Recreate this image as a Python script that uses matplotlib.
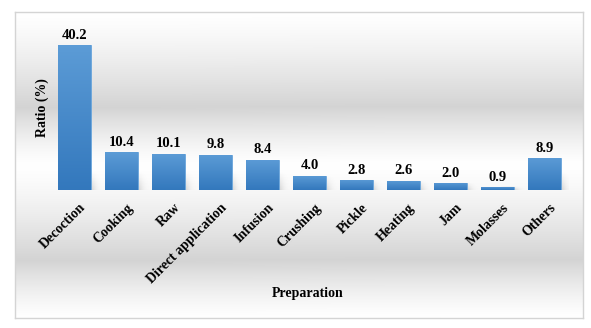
import matplotlib
matplotlib.use("Agg")

import matplotlib.pyplot as plt
import matplotlib.transforms as mtransforms
import numpy as np

categories = ["Decoction", "Cooking", "Raw", "Direct application", "Infusion",
              "Crushing", "Pickle", "Heating", "Jam", "Molasses", "Others"]
ratios = [40.2, 10.4, 10.1, 9.8, 8.4, 4.0, 2.8, 2.6, 2.0, 0.9, 8.9]

plt.rcParams["font.family"] = ["Liberation Serif", "DejaVu Serif"]

W, H = 591, 328
fig = plt.figure(figsize=(W / 100, H / 100), dpi=100)


def px_box(x0, y0, x1, y1):
    return [x0 / W, (H - y1) / H, (x1 - x0) / W, (y1 - y0) / H]


# framed background with vertical grey gradient
bg = fig.add_axes(px_box(15, 12, 583, 318))
t = np.linspace(0, 1, 300)
peak = 0.62
shade = np.where(t < peak, t / peak, (1 - t) / (1 - peak))
grey = 1.0 - 0.17 * shade ** 1.3
img = np.dstack([grey, grey, grey])[:, None, :].repeat(2, axis=1).reshape(300, 2, 3)
bg.imshow(img, aspect="auto", extent=[0, 1, 0, 1], origin="upper")
bg.set_xticks([])
bg.set_yticks([])
for s in bg.spines.values():
    s.set_color("#d4d4d4")
    s.set_linewidth(1.0)

ax = fig.add_axes(px_box(51, 27.7, 568, 190))
ax.patch.set_alpha(0)
x = np.arange(len(categories))
bars = ax.bar(x, ratios, width=0.70, color="#4a8bcb", edgecolor="#6aa6dc",
              linewidth=0.6, zorder=3)

# vertical gradient on each bar
grad = np.linspace(0, 1, 100)[:, None]
top = np.array([0.36, 0.61, 0.84])
bot = np.array([0.20, 0.47, 0.74])
gimg = (top * (1 - grad)[..., None] + bot * grad[..., None]).repeat(2, axis=1)
for b in bars:
    bx, bw, bh = b.get_x(), b.get_width(), b.get_height()
    im = ax.imshow(gimg, aspect="auto", extent=[bx, bx + bw, 0, bh],
                   origin="upper", zorder=3.5)
    im.set_clip_path(b)
    # soft shadow to the right of the bar base
    sh_h = min(bh, 5.0)
    sx = np.linspace(0, 1, 40)
    sy = np.linspace(0, 1, 30)
    alpha = np.outer(1 - sy, np.exp(-((sx - 0.3) / 0.35) ** 2)) * 0.25
    simg = np.zeros((30, 40, 4))
    simg[..., 3] = alpha[::-1]
    ax.imshow(simg, aspect="auto", extent=[bx + bw * 0.6, bx + bw + 0.22, 0, sh_h],
              origin="upper", zorder=2)

for xi, v in zip(x, ratios):
    ax.text(xi, v + 0.9, f"{v:.1f}", ha="center", va="bottom",
            fontsize=10.5, fontweight="bold", zorder=5)

ax.set_xlim(-0.5, len(categories) - 0.5)
ax.set_ylim(0, 45)
ax.set_yticks([])
ax.set_xticks(x)
ax.set_xticklabels(categories, rotation=45, ha="right", rotation_mode="anchor",
                   fontsize=10, fontweight="bold")
ax.tick_params(axis="x", length=0, pad=8)
shift = mtransforms.ScaledTranslation(5 / 100, 0, fig.dpi_scale_trans)
for lbl in ax.get_xticklabels():
    lbl.set_transform(lbl.get_transform() + shift)
for s in ax.spines.values():
    s.set_visible(False)

fig.text(42 / W, 1 - 108 / H, "Ratio (%)", rotation=90, ha="center", va="center",
         fontsize=10, fontweight="bold")
fig.text(308 / W, 1 - 293 / H, "Preparation", ha="center", va="center",
         fontsize=10, fontweight="bold")

fig.savefig("out.png", dpi=100)
